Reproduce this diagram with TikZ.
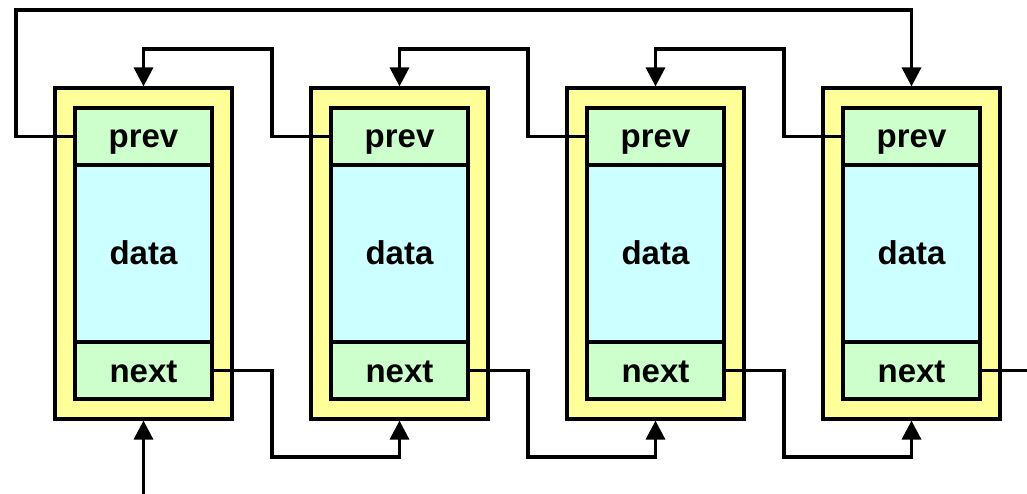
\documentclass[tikz,border=0pt]{standalone}
\usepackage{fontspec}
\setmainfont{Liberation Sans}
\usetikzlibrary{arrows.meta}
\definecolor{outery}{HTML}{FFFF99}
\definecolor{fieldg}{HTML}{CCFFCC}
\definecolor{datac}{HTML}{CCFFFF}
\tikzset{
  outerbox/.style={draw=black, fill=outery, line width=3.2pt, minimum width=177pt, minimum height=331pt, inner sep=0pt},
  fieldbox/.style={draw=black, fill=fieldg, line width=3.2pt, minimum width=137pt, minimum height=57pt, inner sep=0pt, text height=23pt, text depth=0pt, font=\fontsize{33}{38}\selectfont\bfseries},
  databox/.style={draw=black, fill=datac, line width=3.2pt, minimum width=137pt, minimum height=177pt, inner sep=0pt, text height=23pt, text depth=0pt, font=\fontsize{33}{38}\selectfont\bfseries},
  link/.style={draw=black, line width=3.4pt},
  linkarr/.style={link, -{Triangle[width=19pt,length=19pt]}}
}
\begin{document}
\begin{tikzpicture}[x=1pt,y=-1pt]
\useasboundingbox (0,0) rectangle (1027,494);
\foreach \i in {1,...,4}{
  \pgfmathsetmacro{\cx}{143.5+256*(\i-1)}
  \node[outerbox] (o\i) at (\cx,253.5) {};
  \node[databox] (d\i) at (\cx,253.5) {data};
  \node[fieldbox] (p\i) at (\cx,136.5) {prev};
  \node[fieldbox] (n\i) at (\cx,370.5) {next};
}
\coordinate (start) at (o1.south |- 0,494);
\coordinate (finish) at (1027,370.5);
% head arrow
\draw[linkarr] (start) -- (o1.south);
% ring from first prev to last node
\draw[linkarr] (p1.west) -| (16,10) -| (o4.north);
% prev links
\foreach \i/\j in {1/2,2/3,3/4}{
  \pgfmathsetmacro{\bx}{272+256*(\i-1)}
  \draw[linkarr] (p\j.west) -| (\bx,49) -| (o\i.north);
  \draw[linkarr] (n\i.east) -| (\bx,457) -| (o\j.south);
}
\draw[link] (n4.east) -- (finish);
\end{tikzpicture}
\end{document}
